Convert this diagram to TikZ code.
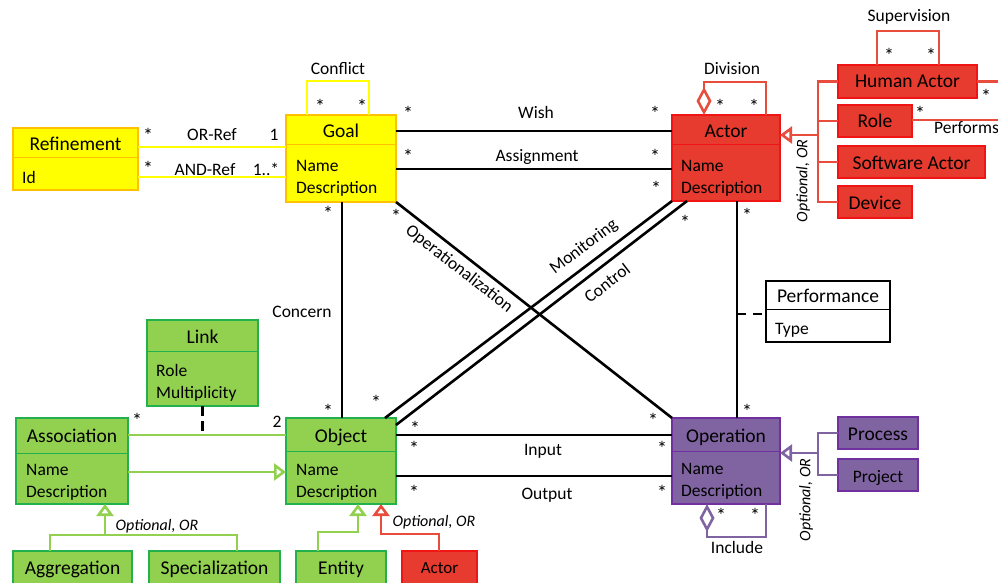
\documentclass[tikz,border=0pt]{standalone}
\usepackage{fontspec}
\setmainfont{Carlito}
\usetikzlibrary{arrows.meta,fit,calc}
\definecolor{yfill}{HTML}{FFFF00}
\definecolor{ydraw}{HTML}{FFC000}
\definecolor{yline}{HTML}{FFFF00}
\definecolor{rfill}{HTML}{E63B2E}
\definecolor{rdraw}{HTML}{F01414}
\definecolor{rline}{HTML}{E84C3D}
\definecolor{gfill}{HTML}{92D050}
\definecolor{gdraw}{HTML}{22B14C}
\definecolor{gline}{HTML}{92D050}
\definecolor{pfill}{HTML}{8064A2}
\definecolor{pdraw}{HTML}{7030A0}
\definecolor{pline}{HTML}{8064A2}
\definecolor{kfill}{HTML}{FFFFFF}
\definecolor{kdraw}{HTML}{000000}
\newcommand\ftitle{\fontsize{19.5}{21}\selectfont}
\newcommand\fattr{\fontsize{17.5}{19}\selectfont}
\newcommand\fsmall{\fontsize{17}{19}\selectfont}
\newcommand\fopt{\fontsize{16}{18}\selectfont\itshape}
\newcommand\fmul{\fontsize{20}{22}\selectfont}
% name, colour prefix, x1, y1, x2, y2, divider y, title baseline, title
\newcommand\umlbox[9]{%
  \node[box, fill=#2fill, draw=#2draw, fit={(#3,#4) (#5,#6)}] (#1) {};
  \draw[#2draw, line width=1pt] (#3,#7) -- (#5,#7);
  \node[ttl] (#1-t) at ({(#3+#5)/2},#8) {#9};}
% name, colour prefix, x1, y1, x2, y2, text baseline, text, font
\newcommand\smbox[9]{%
  \node[box, fill=#2fill, draw=#2draw, fit={(#3,#4) (#5,#6)}] (#1) {};
  \node[ttl, font=#9] (#1-t) at ({(#3+#5)/2},#7) {#8};}
\tikzset{
  box/.style={inner sep=0pt, outer sep=0pt, line width=2.2pt},
  ttl/.style={font=\ftitle, inner sep=0pt, anchor=base},
  attr/.style={font=\fattr, inner sep=0pt, anchor=base west},
  lab/.style={font=\fattr, inner sep=0pt, anchor=base},
  mul/.style={font=\fmul, inner sep=0pt, anchor=base, yshift=-2.5pt},
  opt/.style={font=\fopt, inner sep=0pt},
  blk/.style={line width=2.6pt, black},
  yl/.style={line width=2.6pt, yline},
  rl/.style={line width=2.6pt, rline},
  gl/.style={line width=2.6pt, gline},
  pl/.style={line width=2.6pt, pline},
  gen/.style={-{Triangle[open, length=12pt, width=17pt]}},
  agg/.style={{Diamond[open, length=28pt, width=15pt]}-},
}
\begin{document}
\begin{tikzpicture}[x=1pt, y=-1pt, line join=miter]
\useasboundingbox (0,0) rectangle (998,583);

% ---------- class boxes ----------
\umlbox{refinement}{y}{13}{128}{138}{190}{157}{150}{Refinement}
\umlbox{goal}{y}{286}{115}{396}{202}{144}{138}{Goal}
\umlbox{actor}{r}{672}{115}{780}{201}{144}{138}{Actor}
\umlbox{object}{g}{286}{418}{396}{504}{451}{442}{Object}
\umlbox{operation}{p}{672}{418}{780}{504}{451}{442}{Operation}
\umlbox{assoc}{g}{16}{418}{128}{504}{453}{442}{Association}
\umlbox{link}{g}{147}{320}{258}{406}{351}{343}{Link}
\umlbox{performance}{k}{766}{281}{890}{342}{309}{302}{Performance}

\node[attr] (refinement-a1) at (22,183) {Id};
\node[attr] (goal-a1) at (296,171) {Name};
\node[attr] (goal-a2) at (296,193) {Description};
\node[attr] (actor-a1) at (681,171) {Name};
\node[attr] (actor-a2) at (681,193) {Description};
\node[attr] (object-a1) at (296,475) {Name};
\node[attr] (object-a2) at (296,497) {Description};
\node[attr] (operation-a1) at (681,474) {Name};
\node[attr] (operation-a2) at (681,496) {Description};
\node[attr] (assoc-a1) at (26,475) {Name};
\node[attr] (assoc-a2) at (26,497) {Description};
\node[attr] (link-a1) at (156,376) {Role};
\node[attr] (link-a2) at (156,398) {Multiplicity};
\node[attr] (performance-a1) at (775,334) {Type};

\smbox{human}{r}{838}{65}{977}{98}{88}{Human Actor}{\ftitle}
\smbox{role}{r}{838}{105}{912}{137}{128}{Role}{\ftitle}
\smbox{software}{r}{838}{146}{985}{178}{169}{Software Actor}{\ftitle}
\smbox{device}{r}{838}{186}{912}{218}{209}{Device}{\ftitle}
\smbox{process}{p}{838}{417}{918}{449}{440}{Process}{\ftitle}
\smbox{project}{p}{838}{459}{918}{491}{482}{Project}{\fattr}
\smbox{aggregation}{g}{13}{551}{132}{595}{574}{Aggregation}{\ftitle}
\smbox{specialization}{g}{149}{551}{280}{595}{574}{Specialization}{\ftitle}
\smbox{entity}{g}{296}{551}{386}{595}{574}{Entity}{\ftitle}
\smbox{actorS}{r}{402}{551}{477}{595}{573}{Actor}{\fsmall}

% ---------- yellow connectors ----------
\draw[yl] ([yshift=-19pt]refinement.north east) -- ([yshift=-32pt]goal.north west);
\draw[yl] ([yshift=-49pt]refinement.north east) -- ([yshift=-62pt]goal.north west);
\draw[yl] ([xshift=21pt]goal.north west) -- ++(0,-34) -| ([xshift=83pt]goal.north west);

% ---------- black connectors ----------
\draw[blk] ([yshift=-16pt]goal.north east) -- ([yshift=-16pt]actor.north west);
\draw[blk] ([yshift=-54pt]goal.north east) -- ([yshift=-54pt]actor.north west);
\draw[blk] ([xshift=56pt]goal.south west) -- ([xshift=56pt]object.north west);
\draw[blk] (goal.south east) -- (operation.north west);
\draw[blk] ([xshift=-11pt]object.north east) -- (actor.south west);
\draw[blk] ([yshift=-7pt]object.north east) -- ([xshift=15pt]actor.south west);
\draw[blk] ([yshift=-17pt]object.north east) -- ([yshift=-17pt]operation.north west);
\draw[blk] ([yshift=-58pt]object.north east) -- ([yshift=-58pt]operation.north west);
\coordinate (aoline) at ([xshift=65pt]actor.south west);
\draw[blk] (aoline) -- ([xshift=65pt]operation.north west);
\coordinate (pj) at ([yshift=-2.5pt]performance.west);
\draw[blk, dash pattern=on 9pt off 7pt] (aoline |- pj) -- (pj);

% ---------- green connectors ----------
\coordinate (aline) at ([yshift=-17pt]assoc.north east);
\draw[gl] (aline) -- ([yshift=-17pt]object.north west);
\draw[blk, dash pattern=on 10pt off 5pt] (link.south) -- (link.south |- aline);
\draw[gl, gen] ([yshift=-54pt]assoc.north east) -- ([yshift=-54pt]object.north west);
\coordinate (aj) at ([xshift=89pt,yshift=-31pt]assoc.south west);
\draw[gl] ([xshift=37pt]aggregation.north west) |- (aj) -| ([xshift=88pt]specialization.north west);
\draw[gl, gen] (aj) -- ([xshift=89pt]assoc.south west);
\draw[gl, gen] ([xshift=22pt]entity.north west) |- ([xshift=72pt,yshift=-28pt]object.south west) -- ([xshift=72pt]object.south west);
\draw[rl, gen] ([xshift=37pt]actorS.north west) |- ([xshift=95pt,yshift=-30pt]object.south west) -- ([xshift=95pt]object.south west);

% ---------- red connectors ----------
\draw[rl, agg] ([xshift=32pt]actor.north west) -- ++(0,-33) -| ([xshift=94pt]actor.north west);
\coordinate (aj2) at ([xshift=38pt,yshift=-20pt]actor.north east);
\draw[rl] (human.west) -| (aj2);
\draw[rl] (role.west) -| (aj2);
\draw[rl] (software.west) -| (aj2);
\draw[rl] (device.west) -| (aj2);
\draw[rl, gen] (aj2) -- ([yshift=-20pt]actor.north east);
\draw[rl] ([xshift=39pt]human.north west) -- ++(0,-34) -| ([xshift=101pt]human.north west);
\draw[rl] (human.east) -- ++(40,0);
\draw[rl] ([yshift=1pt]role.east) -- ++(100,0);

% ---------- purple connectors ----------
\draw[pl, agg] ([xshift=35pt]operation.south west) -- ++(0,33) -| ([xshift=94pt]operation.south west);
\coordinate (oj) at ([xshift=38pt,yshift=-35pt]operation.north east);
\draw[pl] (process.west) -| (oj);
\draw[pl] (project.west) -| (oj);
\draw[pl, gen] (oj) -- ([yshift=-35pt]operation.north east);

% ---------- labels ----------
\node[lab] (l-conflict) at (338,75) {Conflict};
\node[lab] (l-supervision) at (909,22) {Supervision};
\node[lab] (l-division) at (732,75) {Division};
\node[lab] (l-orref) at (212,141) {OR-Ref};
\node[lab] (l-orref1) at (274,141) {1};
\node[lab] (l-andref) at (205,175) {AND-Ref};
\node[lab] (l-andref1) at (266,175) {1..*};
\node[lab] (l-wish) at (536,119) {Wish};
\node[lab] (l-assign) at (537,161) {Assignment};
\node[lab] (l-concern) at (302,317) {Concern};
\node[lab] (l-input) at (543,455) {Input};
\node[lab] (l-output) at (547,499) {Output};
\node[lab] (l-include) at (737,553) {Include};
\node[lab, anchor=base west] (l-performs) at (934,133) {Performs};
\node[lab] (l-two) at (277,427) {2};
\node[font=\fattr, inner sep=0pt, rotate=-38.05] (l-oper) at (459,269) {Operationalization};
\node[font=\fattr, inner sep=0pt, rotate=37.1] (l-monit) at (584,247) {Monitoring};
\node[font=\fattr, inner sep=0pt, rotate=37.6] (l-control) at (607,283) {Control};

\node[opt] (opt1) at (157,526) {Optional, OR};
\node[opt] (opt2) at (434,522) {Optional, OR};
\node[opt, rotate=90] (opt3) at (803,181) {Optional, OR};
\node[opt, rotate=90] (opt4) at (806,500) {Optional, OR};

% ---------- multiplicities ----------
\foreach \x/\y [count=\i] in {148/140, 148/173, 320/111, 362/111, 408/118, 408/161,
  655/118, 655/161, 656/193, 720/111, 754/111, 889/60, 931/60, 986/101, 920/118,
  328/218, 396/221, 685/227, 747/220, 328/416, 376/407, 415/433, 414/453, 414/497,
  653/425, 662/453, 662/497, 747/416, 721/520, 755/520, 137/425}
  \node[mul] (m\i) at (\x,\y) {*};
\end{tikzpicture}
\end{document}
